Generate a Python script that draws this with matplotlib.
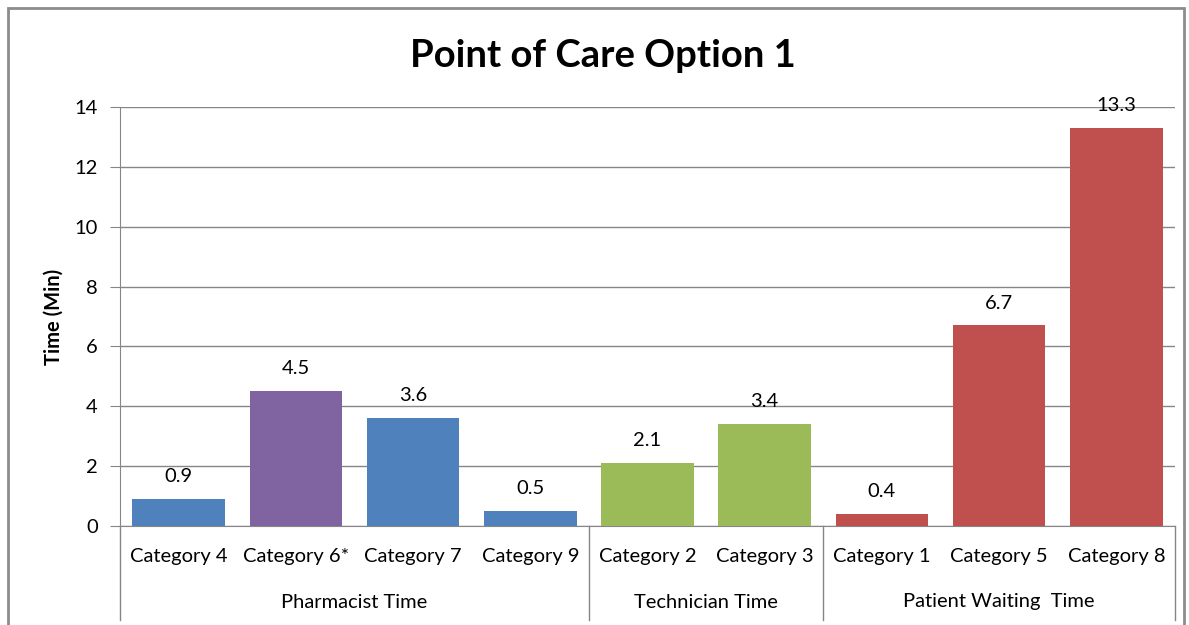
import matplotlib
matplotlib.use('Agg')
import matplotlib.pyplot as plt
import matplotlib.transforms as mtransforms
from matplotlib.patches import Rectangle
import numpy as np

categories = ['Category 4', 'Category 6*', 'Category 7', 'Category 9',
              'Category 2', 'Category 3',
              'Category 1', 'Category 5', 'Category 8']
values = [0.9, 4.5, 3.6, 0.5, 2.1, 3.4, 0.4, 6.7, 13.3]
bar_colors = ['#4F81BD', '#8064A2', '#4F81BD', '#4F81BD',
              '#9BBB59', '#9BBB59',
              '#C0504D', '#C0504D', '#C0504D']
groups = ['Pharmacist Time', 'Technician Time', 'Patient Waiting  Time']
group_sizes = [4, 2, 3]
yticks = [0, 2, 4, 6, 8, 10, 12, 14]

plt.rcParams['font.family'] = ['Lato', 'DejaVu Sans']
grid_c = '#868686'
fs = 14.5

fig = plt.figure(figsize=(11.89, 6.25), dpi=100)
ax = fig.add_axes([120/1189, 1-526/625, (1175-120)/1189, (526-107)/625])

x = np.arange(len(categories))
bars = ax.bar(x, values, width=0.79, color=bar_colors, zorder=3)
ax.bar_label(bars, labels=[f'{v:.1f}' for v in values], padding=10, fontsize=fs)

ax.set_xlim(-0.5, len(categories) - 0.5)
ax.set_ylim(0, 14)
ax.set_yticks(yticks)
ax.set_yticklabels([str(t) for t in yticks], fontsize=fs)
ax.yaxis.grid(True, color=grid_c, lw=1)
ax.set_axisbelow(True)
for s in ['top', 'right']:
    ax.spines[s].set_visible(False)
for s in ['left', 'bottom']:
    ax.spines[s].set_color(grid_c)
ax.tick_params(axis='y', length=7, color=grid_c, pad=9)
ax.set_xticks(x)
ax.set_xticklabels(categories, fontsize=fs)
ax.tick_params(axis='x', length=0, pad=16)
ax.set_ylabel('Time (Min)', fontsize=fs, fontweight='bold', labelpad=8)

# multi-level category axis: group labels and separators
trans = mtransforms.blended_transform_factory(ax.transData, ax.transAxes)
start = 0
bounds = [-0.5]
for g, n in zip(groups, group_sizes):
    mid = start + (n - 1) / 2
    ax.text(mid, -(602-526)/419, g, transform=trans, ha='center', va='center', fontsize=fs)
    start += n
    bounds.append(start - 0.5)
for b in bounds:
    ax.plot([b, b], [0, -0.225], transform=trans, color=grid_c, lw=1, clip_on=False)

fig.text(603/1189, 1-56/625, 'Point of Care Option 1', ha='center', va='center',
         fontsize=27.5, fontweight='bold')

# outer chart frame
fig.patches.append(Rectangle((8/1189, -0.05), 1176/1189, 1.05 - 8/625,
                             transform=fig.transFigure, fill=False,
                             edgecolor='#8c8c8c', lw=2))

fig.savefig('out.png', dpi=100)
